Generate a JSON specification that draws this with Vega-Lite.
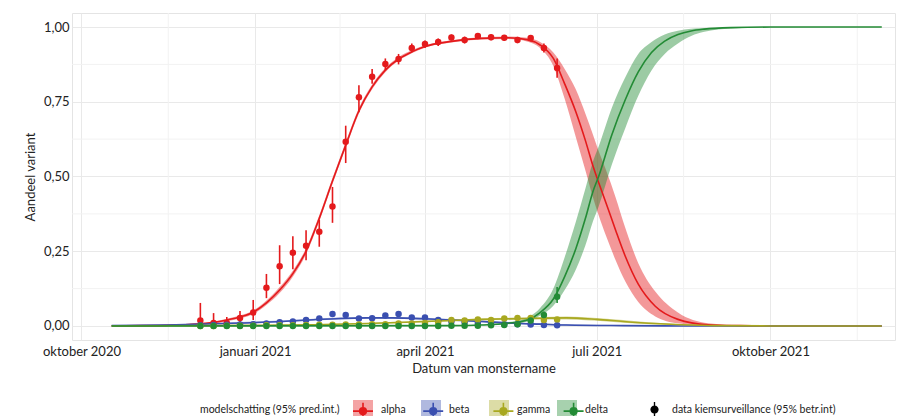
{
  "$schema": "https://vega.github.io/schema/vega-lite/v6.json",
  "autosize": {"type": "none"},
  "width": 823,
  "height": 327,
  "padding": {"left": 72, "top": 13, "right": 15, "bottom": 76},
  "background": "white",
  "config": {
    "view": {"stroke": "#e4e4e4", "strokeWidth": 1},
    "font": "Lato",
    "axis": {
      "labelFont": "Lato", "labelFontSize": 13, "labelColor": "#222222",
      "titleFont": "Lato", "titleFontSize": 13, "titleFontWeight": "normal", "titleColor": "#222222",
      "domain": false, "ticks": false, "gridColor": "#e9e9e9", "gridWidth": 1
    },
    "legend": {"labelFont": "Lato", "titleFont": "Lato", "padding": 0}
  },
  "datasets": {
    "gridx": [
      {"date": "2020-11-16"}, {"date": "2021-02-15"}, {"date": "2021-05-16"}, {"date": "2021-08-16"}, {"date": "2021-11-16"}
    ],
    "gridy": [{"v": 0.125}, {"v": 0.375}, {"v": 0.625}, {"v": 0.875}],
    "model": [
      {"variant": "alpha", "date": "2020-10-17", "value": 0.000, "lo": 0.000, "hi": 0.001},
      {"variant": "alpha", "date": "2020-11-01", "value": 0.001, "lo": 0.000, "hi": 0.002},
      {"variant": "alpha", "date": "2020-11-15", "value": 0.002, "lo": 0.001, "hi": 0.003},
      {"variant": "alpha", "date": "2020-12-01", "value": 0.006, "lo": 0.004, "hi": 0.008},
      {"variant": "alpha", "date": "2020-12-10", "value": 0.012, "lo": 0.009, "hi": 0.015},
      {"variant": "alpha", "date": "2020-12-17", "value": 0.020, "lo": 0.016, "hi": 0.024},
      {"variant": "alpha", "date": "2020-12-24", "value": 0.030, "lo": 0.025, "hi": 0.035},
      {"variant": "alpha", "date": "2020-12-31", "value": 0.046, "lo": 0.040, "hi": 0.052},
      {"variant": "alpha", "date": "2021-01-07", "value": 0.077, "lo": 0.070, "hi": 0.085},
      {"variant": "alpha", "date": "2021-01-14", "value": 0.120, "lo": 0.110, "hi": 0.130},
      {"variant": "alpha", "date": "2021-01-21", "value": 0.175, "lo": 0.165, "hi": 0.185},
      {"variant": "alpha", "date": "2021-01-28", "value": 0.250, "lo": 0.240, "hi": 0.260},
      {"variant": "alpha", "date": "2021-02-04", "value": 0.360, "lo": 0.350, "hi": 0.370},
      {"variant": "alpha", "date": "2021-02-11", "value": 0.485, "lo": 0.475, "hi": 0.495},
      {"variant": "alpha", "date": "2021-02-18", "value": 0.605, "lo": 0.595, "hi": 0.615},
      {"variant": "alpha", "date": "2021-02-25", "value": 0.720, "lo": 0.711, "hi": 0.729},
      {"variant": "alpha", "date": "2021-03-04", "value": 0.800, "lo": 0.792, "hi": 0.808},
      {"variant": "alpha", "date": "2021-03-11", "value": 0.856, "lo": 0.849, "hi": 0.863},
      {"variant": "alpha", "date": "2021-03-18", "value": 0.893, "lo": 0.887, "hi": 0.899},
      {"variant": "alpha", "date": "2021-03-25", "value": 0.917, "lo": 0.912, "hi": 0.922},
      {"variant": "alpha", "date": "2021-04-01", "value": 0.935, "lo": 0.931, "hi": 0.939},
      {"variant": "alpha", "date": "2021-04-15", "value": 0.952, "lo": 0.948, "hi": 0.956},
      {"variant": "alpha", "date": "2021-05-01", "value": 0.962, "lo": 0.958, "hi": 0.966},
      {"variant": "alpha", "date": "2021-05-15", "value": 0.964, "lo": 0.960, "hi": 0.968},
      {"variant": "alpha", "date": "2021-05-25", "value": 0.958, "lo": 0.952, "hi": 0.964},
      {"variant": "alpha", "date": "2021-06-01", "value": 0.940, "lo": 0.930, "hi": 0.950},
      {"variant": "alpha", "date": "2021-06-08", "value": 0.895, "lo": 0.870, "hi": 0.915},
      {"variant": "alpha", "date": "2021-06-14", "value": 0.810, "lo": 0.760, "hi": 0.860},
      {"variant": "alpha", "date": "2021-06-20", "value": 0.715, "lo": 0.630, "hi": 0.790},
      {"variant": "alpha", "date": "2021-06-25", "value": 0.620, "lo": 0.520, "hi": 0.710},
      {"variant": "alpha", "date": "2021-06-29", "value": 0.535, "lo": 0.430, "hi": 0.640},
      {"variant": "alpha", "date": "2021-07-02", "value": 0.480, "lo": 0.370, "hi": 0.585},
      {"variant": "alpha", "date": "2021-07-06", "value": 0.410, "lo": 0.300, "hi": 0.520},
      {"variant": "alpha", "date": "2021-07-11", "value": 0.320, "lo": 0.220, "hi": 0.430},
      {"variant": "alpha", "date": "2021-07-16", "value": 0.235, "lo": 0.150, "hi": 0.330},
      {"variant": "alpha", "date": "2021-07-23", "value": 0.140, "lo": 0.080, "hi": 0.210},
      {"variant": "alpha", "date": "2021-08-01", "value": 0.066, "lo": 0.032, "hi": 0.115},
      {"variant": "alpha", "date": "2021-08-13", "value": 0.022, "lo": 0.009, "hi": 0.045},
      {"variant": "alpha", "date": "2021-08-29", "value": 0.004, "lo": 0.001, "hi": 0.009},
      {"variant": "alpha", "date": "2021-09-15", "value": 0.001, "lo": 0.000, "hi": 0.002},
      {"variant": "alpha", "date": "2021-10-01", "value": 0.000, "lo": 0.000, "hi": 0.000},
      {"variant": "alpha", "date": "2021-11-29", "value": 0.000, "lo": 0.000, "hi": 0.000},

      {"variant": "beta", "date": "2020-10-17", "value": 0.001, "lo": 0.000, "hi": 0.002},
      {"variant": "beta", "date": "2020-11-15", "value": 0.003, "lo": 0.001, "hi": 0.005},
      {"variant": "beta", "date": "2020-12-15", "value": 0.008, "lo": 0.005, "hi": 0.011},
      {"variant": "beta", "date": "2021-01-15", "value": 0.015, "lo": 0.012, "hi": 0.018},
      {"variant": "beta", "date": "2021-02-01", "value": 0.021, "lo": 0.018, "hi": 0.024},
      {"variant": "beta", "date": "2021-02-15", "value": 0.025, "lo": 0.022, "hi": 0.028},
      {"variant": "beta", "date": "2021-03-01", "value": 0.027, "lo": 0.024, "hi": 0.030},
      {"variant": "beta", "date": "2021-03-15", "value": 0.027, "lo": 0.024, "hi": 0.030},
      {"variant": "beta", "date": "2021-04-01", "value": 0.024, "lo": 0.021, "hi": 0.027},
      {"variant": "beta", "date": "2021-04-15", "value": 0.020, "lo": 0.017, "hi": 0.023},
      {"variant": "beta", "date": "2021-05-01", "value": 0.015, "lo": 0.012, "hi": 0.018},
      {"variant": "beta", "date": "2021-05-15", "value": 0.010, "lo": 0.007, "hi": 0.013},
      {"variant": "beta", "date": "2021-06-01", "value": 0.006, "lo": 0.004, "hi": 0.009},
      {"variant": "beta", "date": "2021-06-15", "value": 0.003, "lo": 0.001, "hi": 0.006},
      {"variant": "beta", "date": "2021-07-15", "value": 0.001, "lo": 0.000, "hi": 0.003},
      {"variant": "beta", "date": "2021-08-15", "value": 0.000, "lo": 0.000, "hi": 0.001},
      {"variant": "beta", "date": "2021-11-29", "value": 0.000, "lo": 0.000, "hi": 0.000},

      {"variant": "gamma", "date": "2020-10-17", "value": 0.000, "lo": 0.000, "hi": 0.001},
      {"variant": "gamma", "date": "2021-01-01", "value": 0.002, "lo": 0.001, "hi": 0.003},
      {"variant": "gamma", "date": "2021-02-01", "value": 0.004, "lo": 0.003, "hi": 0.006},
      {"variant": "gamma", "date": "2021-03-01", "value": 0.008, "lo": 0.006, "hi": 0.010},
      {"variant": "gamma", "date": "2021-04-01", "value": 0.015, "lo": 0.012, "hi": 0.018},
      {"variant": "gamma", "date": "2021-05-01", "value": 0.022, "lo": 0.019, "hi": 0.025},
      {"variant": "gamma", "date": "2021-06-01", "value": 0.026, "lo": 0.022, "hi": 0.030},
      {"variant": "gamma", "date": "2021-06-15", "value": 0.027, "lo": 0.022, "hi": 0.032},
      {"variant": "gamma", "date": "2021-07-01", "value": 0.022, "lo": 0.017, "hi": 0.027},
      {"variant": "gamma", "date": "2021-07-15", "value": 0.015, "lo": 0.011, "hi": 0.020},
      {"variant": "gamma", "date": "2021-08-01", "value": 0.008, "lo": 0.005, "hi": 0.011},
      {"variant": "gamma", "date": "2021-08-15", "value": 0.004, "lo": 0.002, "hi": 0.006},
      {"variant": "gamma", "date": "2021-09-01", "value": 0.001, "lo": 0.000, "hi": 0.002},
      {"variant": "gamma", "date": "2021-10-01", "value": 0.000, "lo": 0.000, "hi": 0.000},
      {"variant": "gamma", "date": "2021-11-29", "value": 0.000, "lo": 0.000, "hi": 0.000},

      {"variant": "delta", "date": "2020-10-17", "value": 0.000, "lo": 0.000, "hi": 0.000},
      {"variant": "delta", "date": "2021-04-15", "value": 0.001, "lo": 0.000, "hi": 0.002},
      {"variant": "delta", "date": "2021-05-01", "value": 0.003, "lo": 0.002, "hi": 0.005},
      {"variant": "delta", "date": "2021-05-15", "value": 0.009, "lo": 0.006, "hi": 0.012},
      {"variant": "delta", "date": "2021-05-26", "value": 0.022, "lo": 0.016, "hi": 0.030},
      {"variant": "delta", "date": "2021-06-01", "value": 0.045, "lo": 0.035, "hi": 0.060},
      {"variant": "delta", "date": "2021-06-08", "value": 0.090, "lo": 0.068, "hi": 0.125},
      {"variant": "delta", "date": "2021-06-14", "value": 0.165, "lo": 0.120, "hi": 0.230},
      {"variant": "delta", "date": "2021-06-20", "value": 0.260, "lo": 0.190, "hi": 0.350},
      {"variant": "delta", "date": "2021-06-25", "value": 0.360, "lo": 0.270, "hi": 0.460},
      {"variant": "delta", "date": "2021-06-29", "value": 0.450, "lo": 0.350, "hi": 0.550},
      {"variant": "delta", "date": "2021-07-02", "value": 0.500, "lo": 0.400, "hi": 0.600},
      {"variant": "delta", "date": "2021-07-09", "value": 0.640, "lo": 0.540, "hi": 0.730},
      {"variant": "delta", "date": "2021-07-16", "value": 0.755, "lo": 0.660, "hi": 0.830},
      {"variant": "delta", "date": "2021-07-23", "value": 0.850, "lo": 0.770, "hi": 0.910},
      {"variant": "delta", "date": "2021-07-30", "value": 0.915, "lo": 0.855, "hi": 0.950},
      {"variant": "delta", "date": "2021-08-06", "value": 0.953, "lo": 0.910, "hi": 0.975},
      {"variant": "delta", "date": "2021-08-13", "value": 0.975, "lo": 0.945, "hi": 0.988},
      {"variant": "delta", "date": "2021-08-20", "value": 0.987, "lo": 0.970, "hi": 0.994},
      {"variant": "delta", "date": "2021-08-27", "value": 0.993, "lo": 0.984, "hi": 0.997},
      {"variant": "delta", "date": "2021-09-10", "value": 0.998, "lo": 0.995, "hi": 0.999},
      {"variant": "delta", "date": "2021-10-01", "value": 1.000, "lo": 0.999, "hi": 1.000},
      {"variant": "delta", "date": "2021-11-29", "value": 1.000, "lo": 1.000, "hi": 1.000}
    ],
    "obs": [
      {"variant": "alpha", "date": "2020-12-03", "value": 0.018, "lo": 0.000, "hi": 0.077},
      {"variant": "alpha", "date": "2020-12-10", "value": 0.010, "lo": 0.000, "hi": 0.043},
      {"variant": "alpha", "date": "2020-12-17", "value": 0.010, "lo": 0.000, "hi": 0.030},
      {"variant": "alpha", "date": "2020-12-24", "value": 0.027, "lo": 0.010, "hi": 0.050},
      {"variant": "alpha", "date": "2020-12-31", "value": 0.045, "lo": 0.020, "hi": 0.087},
      {"variant": "alpha", "date": "2021-01-07", "value": 0.128, "lo": 0.093, "hi": 0.174},
      {"variant": "alpha", "date": "2021-01-14", "value": 0.200, "lo": 0.140, "hi": 0.270},
      {"variant": "alpha", "date": "2021-01-21", "value": 0.245, "lo": 0.190, "hi": 0.300},
      {"variant": "alpha", "date": "2021-01-28", "value": 0.268, "lo": 0.220, "hi": 0.320},
      {"variant": "alpha", "date": "2021-02-04", "value": 0.315, "lo": 0.265, "hi": 0.355},
      {"variant": "alpha", "date": "2021-02-11", "value": 0.400, "lo": 0.345, "hi": 0.465},
      {"variant": "alpha", "date": "2021-02-18", "value": 0.616, "lo": 0.545, "hi": 0.670},
      {"variant": "alpha", "date": "2021-02-25", "value": 0.765, "lo": 0.715, "hi": 0.805},
      {"variant": "alpha", "date": "2021-03-04", "value": 0.834, "lo": 0.810, "hi": 0.860},
      {"variant": "alpha", "date": "2021-03-11", "value": 0.876, "lo": 0.855, "hi": 0.895},
      {"variant": "alpha", "date": "2021-03-18", "value": 0.893, "lo": 0.875, "hi": 0.910},
      {"variant": "alpha", "date": "2021-03-25", "value": 0.930, "lo": 0.915, "hi": 0.945},
      {"variant": "alpha", "date": "2021-04-01", "value": 0.943, "lo": 0.930, "hi": 0.955},
      {"variant": "alpha", "date": "2021-04-08", "value": 0.950, "lo": 0.937, "hi": 0.962},
      {"variant": "alpha", "date": "2021-04-15", "value": 0.965, "lo": 0.955, "hi": 0.975},
      {"variant": "alpha", "date": "2021-04-22", "value": 0.957, "lo": 0.945, "hi": 0.968},
      {"variant": "alpha", "date": "2021-04-29", "value": 0.970, "lo": 0.960, "hi": 0.978},
      {"variant": "alpha", "date": "2021-05-06", "value": 0.966, "lo": 0.956, "hi": 0.975},
      {"variant": "alpha", "date": "2021-05-13", "value": 0.964, "lo": 0.954, "hi": 0.973},
      {"variant": "alpha", "date": "2021-05-20", "value": 0.957, "lo": 0.946, "hi": 0.967},
      {"variant": "alpha", "date": "2021-05-27", "value": 0.963, "lo": 0.952, "hi": 0.972},
      {"variant": "alpha", "date": "2021-06-03", "value": 0.930, "lo": 0.915, "hi": 0.945},
      {"variant": "alpha", "date": "2021-06-10", "value": 0.863, "lo": 0.830, "hi": 0.895},

      {"variant": "beta", "date": "2020-12-03", "value": 0.002, "lo": 0.000, "hi": 0.010},
      {"variant": "beta", "date": "2020-12-10", "value": 0.003, "lo": 0.000, "hi": 0.010},
      {"variant": "beta", "date": "2020-12-17", "value": 0.004, "lo": 0.000, "hi": 0.010},
      {"variant": "beta", "date": "2020-12-24", "value": 0.005, "lo": 0.000, "hi": 0.012},
      {"variant": "beta", "date": "2020-12-31", "value": 0.006, "lo": 0.001, "hi": 0.013},
      {"variant": "beta", "date": "2021-01-07", "value": 0.008, "lo": 0.003, "hi": 0.015},
      {"variant": "beta", "date": "2021-01-14", "value": 0.012, "lo": 0.006, "hi": 0.020},
      {"variant": "beta", "date": "2021-01-21", "value": 0.015, "lo": 0.008, "hi": 0.023},
      {"variant": "beta", "date": "2021-01-28", "value": 0.020, "lo": 0.013, "hi": 0.028},
      {"variant": "beta", "date": "2021-02-04", "value": 0.025, "lo": 0.018, "hi": 0.033},
      {"variant": "beta", "date": "2021-02-11", "value": 0.040, "lo": 0.032, "hi": 0.048},
      {"variant": "beta", "date": "2021-02-18", "value": 0.037, "lo": 0.030, "hi": 0.045},
      {"variant": "beta", "date": "2021-02-25", "value": 0.025, "lo": 0.019, "hi": 0.032},
      {"variant": "beta", "date": "2021-03-04", "value": 0.026, "lo": 0.020, "hi": 0.032},
      {"variant": "beta", "date": "2021-03-11", "value": 0.035, "lo": 0.029, "hi": 0.041},
      {"variant": "beta", "date": "2021-03-18", "value": 0.040, "lo": 0.034, "hi": 0.046},
      {"variant": "beta", "date": "2021-03-25", "value": 0.028, "lo": 0.023, "hi": 0.034},
      {"variant": "beta", "date": "2021-04-01", "value": 0.028, "lo": 0.023, "hi": 0.034},
      {"variant": "beta", "date": "2021-04-08", "value": 0.020, "lo": 0.015, "hi": 0.025},
      {"variant": "beta", "date": "2021-04-15", "value": 0.015, "lo": 0.011, "hi": 0.020},
      {"variant": "beta", "date": "2021-04-22", "value": 0.012, "lo": 0.008, "hi": 0.016},
      {"variant": "beta", "date": "2021-04-29", "value": 0.010, "lo": 0.007, "hi": 0.014},
      {"variant": "beta", "date": "2021-05-06", "value": 0.008, "lo": 0.005, "hi": 0.012},
      {"variant": "beta", "date": "2021-05-13", "value": 0.006, "lo": 0.003, "hi": 0.010},
      {"variant": "beta", "date": "2021-05-20", "value": 0.006, "lo": 0.003, "hi": 0.010},
      {"variant": "beta", "date": "2021-05-27", "value": 0.005, "lo": 0.002, "hi": 0.009},
      {"variant": "beta", "date": "2021-06-03", "value": 0.003, "lo": 0.001, "hi": 0.007},
      {"variant": "beta", "date": "2021-06-10", "value": 0.002, "lo": 0.000, "hi": 0.007},

      {"variant": "gamma", "date": "2020-12-03", "value": 0.000, "lo": 0.000, "hi": 0.008},
      {"variant": "gamma", "date": "2020-12-10", "value": 0.000, "lo": 0.000, "hi": 0.006},
      {"variant": "gamma", "date": "2020-12-17", "value": 0.001, "lo": 0.000, "hi": 0.005},
      {"variant": "gamma", "date": "2020-12-24", "value": 0.001, "lo": 0.000, "hi": 0.005},
      {"variant": "gamma", "date": "2020-12-31", "value": 0.001, "lo": 0.000, "hi": 0.005},
      {"variant": "gamma", "date": "2021-01-07", "value": 0.002, "lo": 0.000, "hi": 0.005},
      {"variant": "gamma", "date": "2021-01-14", "value": 0.002, "lo": 0.000, "hi": 0.005},
      {"variant": "gamma", "date": "2021-01-21", "value": 0.002, "lo": 0.000, "hi": 0.005},
      {"variant": "gamma", "date": "2021-01-28", "value": 0.003, "lo": 0.001, "hi": 0.006},
      {"variant": "gamma", "date": "2021-02-04", "value": 0.004, "lo": 0.001, "hi": 0.007},
      {"variant": "gamma", "date": "2021-02-11", "value": 0.004, "lo": 0.001, "hi": 0.007},
      {"variant": "gamma", "date": "2021-02-18", "value": 0.005, "lo": 0.002, "hi": 0.008},
      {"variant": "gamma", "date": "2021-02-25", "value": 0.005, "lo": 0.002, "hi": 0.008},
      {"variant": "gamma", "date": "2021-03-04", "value": 0.006, "lo": 0.003, "hi": 0.009},
      {"variant": "gamma", "date": "2021-03-11", "value": 0.006, "lo": 0.003, "hi": 0.009},
      {"variant": "gamma", "date": "2021-03-18", "value": 0.008, "lo": 0.005, "hi": 0.011},
      {"variant": "gamma", "date": "2021-03-25", "value": 0.008, "lo": 0.005, "hi": 0.011},
      {"variant": "gamma", "date": "2021-04-01", "value": 0.010, "lo": 0.007, "hi": 0.014},
      {"variant": "gamma", "date": "2021-04-08", "value": 0.012, "lo": 0.008, "hi": 0.016},
      {"variant": "gamma", "date": "2021-04-15", "value": 0.020, "lo": 0.015, "hi": 0.025},
      {"variant": "gamma", "date": "2021-04-22", "value": 0.018, "lo": 0.013, "hi": 0.023},
      {"variant": "gamma", "date": "2021-04-29", "value": 0.022, "lo": 0.017, "hi": 0.027},
      {"variant": "gamma", "date": "2021-05-06", "value": 0.020, "lo": 0.015, "hi": 0.025},
      {"variant": "gamma", "date": "2021-05-13", "value": 0.025, "lo": 0.019, "hi": 0.031},
      {"variant": "gamma", "date": "2021-05-20", "value": 0.027, "lo": 0.021, "hi": 0.033},
      {"variant": "gamma", "date": "2021-05-27", "value": 0.027, "lo": 0.021, "hi": 0.033},
      {"variant": "gamma", "date": "2021-06-03", "value": 0.020, "lo": 0.014, "hi": 0.027},
      {"variant": "gamma", "date": "2021-06-10", "value": 0.022, "lo": 0.015, "hi": 0.030},

      {"variant": "delta", "date": "2020-12-03", "value": 0.000, "lo": 0.000, "hi": 0.004},
      {"variant": "delta", "date": "2020-12-10", "value": 0.000, "lo": 0.000, "hi": 0.004},
      {"variant": "delta", "date": "2020-12-17", "value": 0.000, "lo": 0.000, "hi": 0.003},
      {"variant": "delta", "date": "2020-12-24", "value": 0.000, "lo": 0.000, "hi": 0.003},
      {"variant": "delta", "date": "2020-12-31", "value": 0.000, "lo": 0.000, "hi": 0.003},
      {"variant": "delta", "date": "2021-01-07", "value": 0.000, "lo": 0.000, "hi": 0.003},
      {"variant": "delta", "date": "2021-01-14", "value": 0.000, "lo": 0.000, "hi": 0.003},
      {"variant": "delta", "date": "2021-01-21", "value": 0.000, "lo": 0.000, "hi": 0.003},
      {"variant": "delta", "date": "2021-01-28", "value": 0.000, "lo": 0.000, "hi": 0.003},
      {"variant": "delta", "date": "2021-02-04", "value": 0.000, "lo": 0.000, "hi": 0.003},
      {"variant": "delta", "date": "2021-02-11", "value": 0.000, "lo": 0.000, "hi": 0.003},
      {"variant": "delta", "date": "2021-02-18", "value": 0.000, "lo": 0.000, "hi": 0.003},
      {"variant": "delta", "date": "2021-02-25", "value": 0.000, "lo": 0.000, "hi": 0.003},
      {"variant": "delta", "date": "2021-03-04", "value": 0.000, "lo": 0.000, "hi": 0.003},
      {"variant": "delta", "date": "2021-03-11", "value": 0.000, "lo": 0.000, "hi": 0.003},
      {"variant": "delta", "date": "2021-03-18", "value": 0.000, "lo": 0.000, "hi": 0.003},
      {"variant": "delta", "date": "2021-03-25", "value": 0.000, "lo": 0.000, "hi": 0.003},
      {"variant": "delta", "date": "2021-04-01", "value": 0.000, "lo": 0.000, "hi": 0.003},
      {"variant": "delta", "date": "2021-04-08", "value": 0.000, "lo": 0.000, "hi": 0.003},
      {"variant": "delta", "date": "2021-04-15", "value": 0.001, "lo": 0.000, "hi": 0.003},
      {"variant": "delta", "date": "2021-04-22", "value": 0.001, "lo": 0.000, "hi": 0.003},
      {"variant": "delta", "date": "2021-04-29", "value": 0.001, "lo": 0.000, "hi": 0.004},
      {"variant": "delta", "date": "2021-05-06", "value": 0.002, "lo": 0.000, "hi": 0.005},
      {"variant": "delta", "date": "2021-05-13", "value": 0.003, "lo": 0.001, "hi": 0.006},
      {"variant": "delta", "date": "2021-05-20", "value": 0.006, "lo": 0.003, "hi": 0.010},
      {"variant": "delta", "date": "2021-05-27", "value": 0.018, "lo": 0.012, "hi": 0.025},
      {"variant": "delta", "date": "2021-06-03", "value": 0.037, "lo": 0.028, "hi": 0.048},
      {"variant": "delta", "date": "2021-06-10", "value": 0.098, "lo": 0.077, "hi": 0.130}
    ]
  },
  "layer": [
    {
      "data": {"name": "gridx"},
      "mark": {"type": "rule", "color": "#f2f2f2", "strokeWidth": 1},
      "encoding": {"x": {"field": "date", "type": "temporal"}}
    },
    {
      "data": {"name": "gridy"},
      "mark": {"type": "rule", "color": "#f2f2f2", "strokeWidth": 1},
      "encoding": {"y": {"field": "v", "type": "quantitative"}}
    },
    {
      "data": {"name": "model"},
      "mark": {"type": "area", "fillOpacity": 0.45, "interpolate": "monotone"},
      "encoding": {
        "x": {
          "field": "date", "type": "temporal", "title": "Datum van monstername",
          "scale": {"domain": [{"year": 2020, "month": 9, "date": 26, "utc": true}, {"year": 2021, "month": 12, "date": 6, "utc": true}]},
          "axis": {
            "values": [
              {"year": 2020, "month": 10, "date": 1, "utc": true},
              {"year": 2021, "month": 1, "date": 1, "utc": true},
              {"year": 2021, "month": 4, "date": 1, "utc": true},
              {"year": 2021, "month": 7, "date": 1, "utc": true},
              {"year": 2021, "month": 10, "date": 1, "utc": true}
            ],
            "labelExpr": "['januari','februari','maart','april','mei','juni','juli','augustus','september','oktober','november','december'][utcmonth(datum.value)] + ' ' + utcyear(datum.value)",
            "labelPadding": 5, "titlePadding": 4, "grid": true
          }
        },
        "y": {
          "field": "lo", "type": "quantitative", "title": "Aandeel variant",
          "scale": {"domain": [-0.047, 1.047], "nice": false, "zero": false},
          "axis": {
            "values": [0, 0.25, 0.5, 0.75, 1],
            "labelExpr": "replace(format(datum.value, '.2f'), '.', ',')",
            "labelPadding": 3, "titlePadding": 6, "grid": true
          }
        },
        "y2": {"field": "hi"},
        "fill": {
          "field": "variant", "type": "nominal",
          "scale": {"domain": ["alpha", "beta", "gamma", "delta"], "range": ["#e41a1c", "#3a4fb0", "#a8a820", "#238b35"]},
          "legend": {
            "title": "modelschatting (95% pred.int.)",
            "orient": "none", "legendX": 128, "legendY": 387,
            "direction": "horizontal", "gridAlign": "all",
            "titleOrient": "left", "titleFontSize": 10.5, "titleFontWeight": "normal", "titleColor": "#222222",
            "titlePadding": 13, "titleBaseline": "middle",
            "labelFontSize": 10.5, "labelColor": "#222222", "labelOffset": 8,
            "columnPadding": 6,
            "symbolType": "square", "symbolSize": 400, "symbolStrokeWidth": 0,
            "encode": {"symbols": {"update": {"fillOpacity": {"value": 0.4}, "opacity": {"value": 1}, "strokeOpacity": {"value": 0}}}}
          }
        }
      }
    },
    {
      "data": {"name": "model"},
      "mark": {"type": "line", "strokeWidth": 1.6, "interpolate": "monotone"},
      "encoding": {
        "x": {"field": "date", "type": "temporal"},
        "y": {"field": "value", "type": "quantitative"},
        "stroke": {
          "field": "variant", "type": "nominal",
          "sort": ["alpha", "beta", "gamma", "delta"],
          "scale": {"range": ["#e41a1c", "#3a4fb0", "#a8a820", "#238b35"]},
          "legend": {
            "title": null,
            "orient": "none", "legendX": 280, "legendY": 387,
            "direction": "horizontal", "gridAlign": "all",
            "labelExpr": "''", "labelFontSize": 10.5, "labelOffset": 0,
            "columnPadding": 42.2,
            "symbolType": "M-1,0H1M0,-0.85V0.85M0.33,0A0.33,0.33 0 1,1 -0.33,0A0.33,0.33 0 1,1 0.33,0Z",
            "symbolSize": 400, "symbolStrokeWidth": 1.6,
            "encode": {"symbols": {"update": {"fill": {"scale": "stroke", "field": "value"}, "fillOpacity": {"value": 1}, "opacity": {"value": 1}}}}
          }
        }
      }
    },
    {
      "data": {"name": "obs"},
      "mark": {"type": "rule", "strokeWidth": 1.6},
      "encoding": {
        "x": {"field": "date", "type": "temporal"},
        "y": {"field": "lo", "type": "quantitative"},
        "y2": {"field": "hi"},
        "stroke": {"field": "variant", "type": "nominal", "sort": ["alpha", "beta", "gamma", "delta"]}
      }
    },
    {
      "data": {"name": "obs"},
      "mark": {"type": "point", "filled": true, "size": 42},
      "encoding": {
        "x": {"field": "date", "type": "temporal"},
        "y": {"field": "value", "type": "quantitative"},
        "fill": {"field": "variant", "type": "nominal"},
        "opacity": {
          "datum": "data kiemsurveillance (95% betr.int)", "type": "ordinal",
          "scale": {"range": [1]},
          "legend": {
            "title": null, "orient": "none", "legendX": 575, "legendY": 389,
            "labelFontSize": 10.5, "labelColor": "#222222", "labelOffset": 10, "labelLimit": 400,
            "symbolType": "M-0.09,-1H0.09V1H-0.09Z M0.55,0A0.55,0.55 0 1,1 -0.55,0A0.55,0.55 0 1,1 0.55,0Z",
            "symbolSize": 225, "symbolStrokeWidth": 0, "symbolFillColor": "#000000", "symbolStrokeColor": "#000000",
            "encode": {"symbols": {"update": {"fill": {"value": "#000000"}, "fillOpacity": {"value": 1}, "opacity": {"value": 1}}}}
          }
        }
      }
    }
  ]
}
